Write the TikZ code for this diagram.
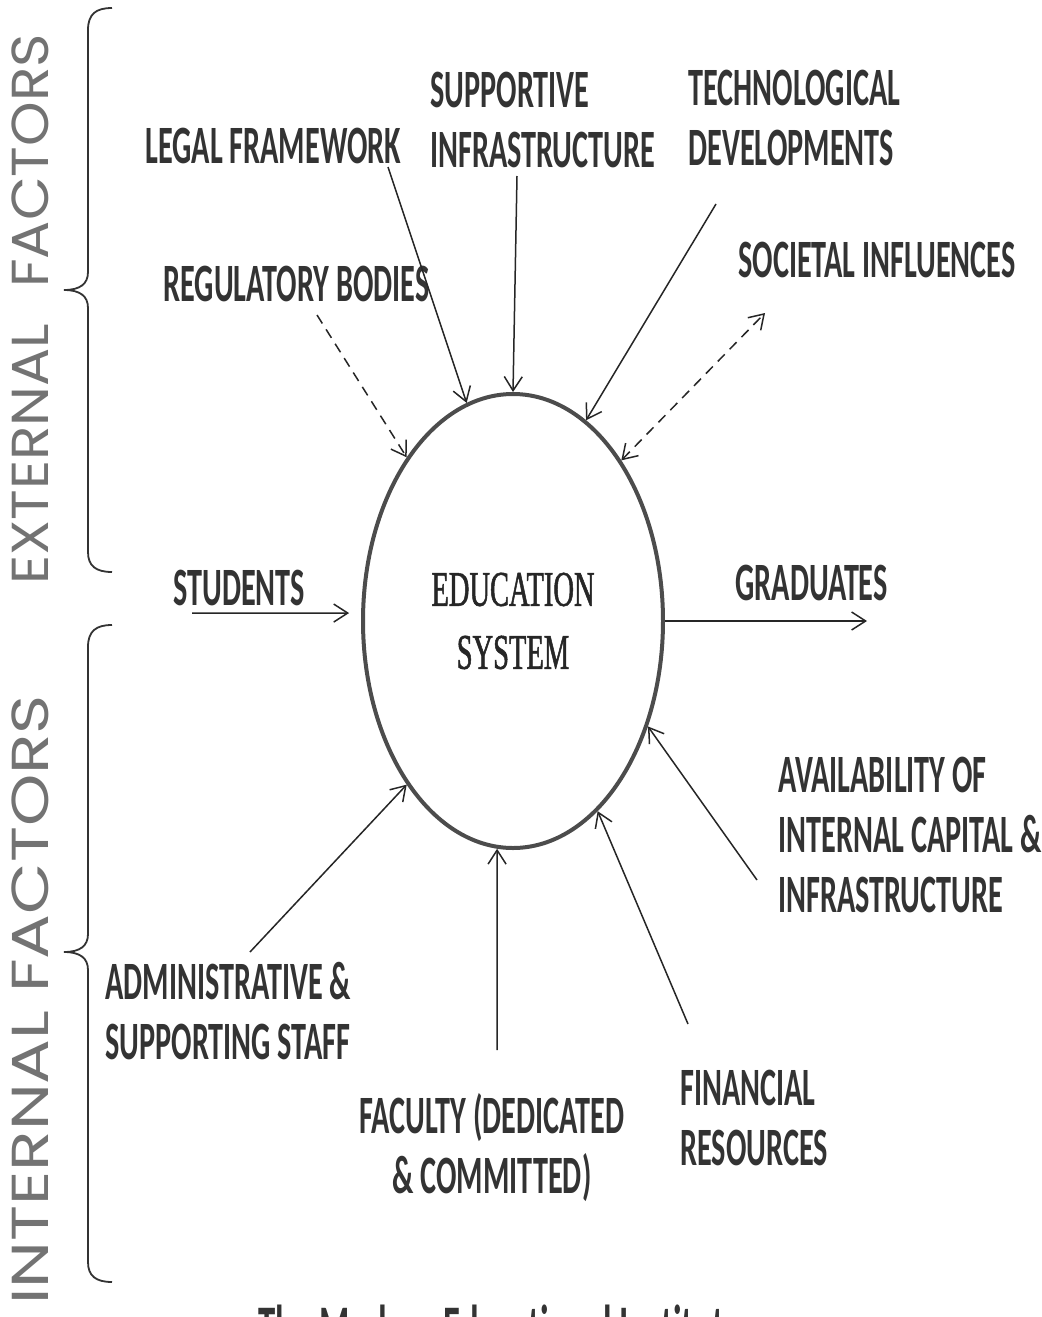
\documentclass[tikz,border=0pt]{standalone}
\usepackage{fontspec}
\usetikzlibrary{shapes.geometric,arrows.meta}
\newfontfamily\lblfont{Carlito}[FakeStretch=0.56]
\newfontfamily\sysfont{Liberation Serif}[FakeStretch=0.57,FakeBold=1]
\newfontfamily\extfont{Poppins}[FakeStretch=1.09]
\newfontfamily\intfont{Poppins}[FakeStretch=1.28]
\begin{document}
\begin{tikzpicture}[x=0.5pt,y=-0.5pt,
  every node/.style={inner sep=0pt},
  >={Straight Barb[length=7pt,width=9pt]},
  lbl/.style={font=\lblfont\bfseries\fontsize{27}{30}\selectfont, text=black!80, align=left, anchor=north west},
  side/.style={text=black!55, rotate=90, anchor=west},
  sys/.style={draw=black!70, line width=2pt, ellipse, minimum width=150pt, minimum height=227pt,
    font=\sysfont\fontsize{25}{31.5}\selectfont, text=black!85, align=center},
  feed/.style={draw=black!85, line width=0.75pt, ->},
  infl/.style={feed, dash pattern=on 5pt off 3.5pt},
  brace line/.style={draw=black!80, line width=0.9pt}]
\fill[white] (0,0) rectangle (1042,1317);
\useasboundingbox (0,0) rectangle (1042,1317);

% the system in the middle
\node[sys] (sys) at (513,621) {EDUCATION\\SYSTEM};

% external factors
\node[lbl] (legal) at (145,128) {LEGAL FRAMEWORK};
\node[lbl] (support) at (430,72) {SUPPORTIVE\\INFRASTRUCTURE};
\node[lbl] (tech) at (688,70) {TECHNOLOGICAL\\DEVELOPMENTS};
\node[lbl] (society) at (738,242) {SOCIETAL INFLUENCES};
\node[lbl] (regul) at (163,266) {REGULATORY BODIES};

% input and output
\node[lbl] (students) at (173,570) {STUDENTS};
\node[lbl] (grads) at (735,565) {GRADUATES};

% internal factors
\node[lbl] (avail) at (778,757) {AVAILABILITY OF\\INTERNAL CAPITAL \&\\INFRASTRUCTURE};
\node[lbl] (admin) at (105,962) {ADMINISTRATIVE \&\\SUPPORTING STAFF};
\node[lbl, align=center, anchor=north] (faculty) at (492,1093) {FACULTY (DEDICATED\\\& COMMITTED)};
\node[lbl] (finance) at (680,1070) {FINANCIAL\\RESOURCES};

% free ends of the arrows
\coordinate (legal-t) at (388,167);
\coordinate (support-t) at (517,176);
\coordinate (tech-t) at (716,204);
\coordinate (society-t) at (765,313);
\coordinate (regul-t) at (317,315);
\coordinate (students-t) at (192,613);
\coordinate (grads-t) at (867,621);
\coordinate (avail-t) at (757,880);
\coordinate (admin-t) at (250,952);
\coordinate (faculty-t) at (497,1050);
\coordinate (finance-t) at (688,1024);

\draw[feed] (legal-t) -- (sys.102);
\draw[feed] (support-t) -- (sys.90);
\draw[feed] (tech-t) -- (sys.70);
\draw[infl, <->] (sys.56) -- (society-t);
\draw[infl] (regul-t) -- (sys.123.5);
\draw[feed, shorten >=6pt] (students-t) -- (sys.177);
\draw[feed] (sys.east) -- (grads-t);
\draw[feed] (avail-t) -- (sys.-38.7);
\draw[feed] (finance-t) -- (sys.-66.7);
\draw[feed] (faculty-t) -- (sys.-94);
\draw[feed] (admin-t) -- (sys.-123.6);

% braces and side titles
\draw[brace line] (112,8) .. controls (96,8) and (88,14) .. (88,30) -- (88,272)
  .. controls (88,284) and (80,290) .. (64,290) .. controls (80,290) and (88,296) .. (88,308)
  -- (88,552) .. controls (88,566) and (96,572) .. (112,572);
\draw[brace line] (112,625) .. controls (96,625) and (88,631) .. (88,647) -- (88,934)
  .. controls (88,946) and (80,952) .. (64,952) .. controls (80,952) and (88,958) .. (88,970)
  -- (88,1262) .. controls (88,1276) and (96,1282) .. (112,1282);
\node[side, font=\extfont\fontsize{26}{26}\selectfont] (ext) at (30,585) {EXTERNAL\hspace{18pt}FACTORS};
\node[side, font=\intfont\fontsize{26}{26}\selectfont] (int) at (30,1305) {INTERNAL FACTORS};

% caption, cut by the page edge
\begin{scope}
\clip (0,0) rectangle (1042,1317);
\node[font=\lblfont\bfseries\fontsize{31}{31}\selectfont, text=black!80, anchor=base] (caption) at (500,1348) {The Modern Educational Institute};
\end{scope}
\end{tikzpicture}
\end{document}
